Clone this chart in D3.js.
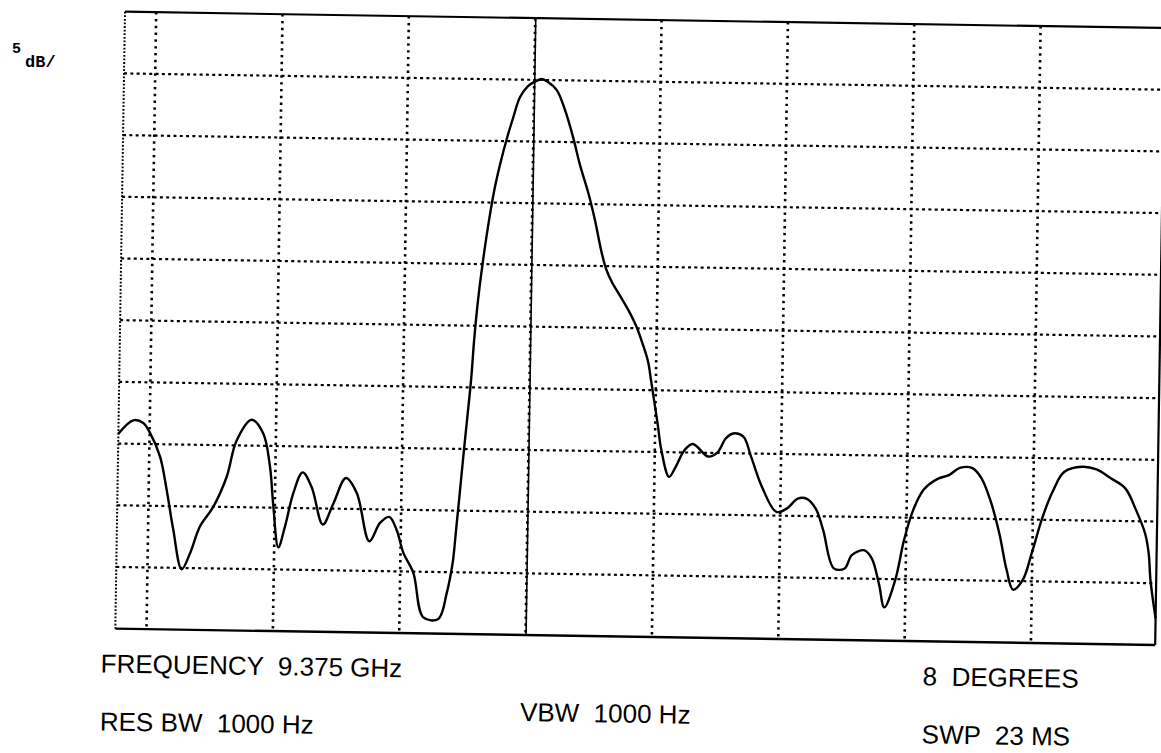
<!DOCTYPE html>
<html>
<head>
<meta charset="utf-8">
<script src="https://cdn.jsdelivr.net/npm/d3@7"></script>
<style>
  html, body { margin: 0; padding: 0; background: #ffffff; }
  svg { display: block; }
  text { white-space: pre; }
</style>
</head>
<body>
<svg id="chart" width="1161" height="753"></svg>
<script>
// Sweep position (% of full sweep, left edge = 0) of each trace sample
const sweepPos = [
  0, 1.41, 2.38, 3.04, 4.04, 4.73, 5.42, 6.29, 7.07, 7.99,
  9.24, 10.48, 11.38, 12.8, 13.93, 14.63, 15.01, 15.55, 16.16, 16.91,
  17.78, 18.67, 19.79, 20.77, 21.95, 23.01, 24.29, 25.29, 26.17, 26.9,
  27.58, 28.57, 29.6, 31.04, 31.81, 32.1, 32.37, 32.61, 32.86, 33.17,
  33.5, 33.83, 34.06, 34.38, 34.8, 35.32, 35.84, 36.29, 36.92, 37.47,
  38.11, 38.86, 39.53, 40.17, 40.78, 41.63, 42.45, 43.3, 43.98, 44.82,
  45.5, 46.13, 46.63, 47.23, 48.03, 48.82, 49.61, 50.31, 50.82, 51.13,
  51.45, 51.83, 52.22, 53.01, 53.62, 54.46, 55.25, 56.72, 57.58, 58.42,
  59.11, 60.09, 60.88, 61.96, 63.38, 64.4, 65.42, 66.29, 67.17, 67.9,
  68.99, 70.03, 70.7, 71.91, 72.62, 73.35, 73.9, 74.9, 75.7, 76.52,
  77.52, 78.88, 79.92, 80.95, 82.16, 83.04, 83.94, 84.86, 85.6, 86.26,
  87.17, 88.0, 88.97, 89.97, 90.98, 92.7, 94.1, 95.49, 96.89, 97.96,
  98.87, 99.24, 99.45, 100
];

// Trace level in dB relative to the top graticule line (5 dB/div)
const levelDb = [
  -34.2, -33.1, -33.3, -34.1, -36.0, -38.7, -41.9, -45.1, -43.8, -41.6,
  -40.0, -37.55, -34.6, -32.9, -34.0, -36.7, -39.9, -43.2, -41.5, -38.8,
  -37.1, -38.3, -41.3, -39.6, -37.5, -38.7, -42.6, -41.1, -40.6, -41.65,
  -43.5, -45.1, -48.7, -48.8, -46.7, -45.5, -44.0, -41.6, -39.1, -35.9,
  -32.65, -29.4, -26.2, -22.9, -19.7, -16.4, -13.7, -11.9, -9.75, -8.12,
  -6.41, -5.51, -5.15, -4.92, -5.16, -5.8, -7.4, -9.69, -11.85, -14.1,
  -16.3, -18.7, -20.2, -21.3, -22.4, -23.5, -24.8, -26.35, -27.7, -29.2,
  -30.8, -32.7, -34.8, -37.0, -36.2, -34.8, -34.3, -35.3, -35.0, -33.8,
  -33.4, -33.65, -35.3, -37.7, -39.7, -39.4, -38.6, -38.6, -39.4, -41.1,
  -44.2, -44.2, -43.1, -42.7, -43.35, -45.4, -47.3, -45.1, -41.8, -39.4,
  -37.7, -36.8, -36.5, -35.9, -35.9, -36.7, -38.5, -41.2, -44.1, -45.7,
  -44.9, -42.7, -39.8, -37.6, -36.1, -35.65, -35.85, -36.55, -37.35, -39.1,
  -41.0, -42.6, -44.75, -47.85
];

// Graticule: vertical division lines (sweep %) and horizontal lines (dB)
const xGridTicks = [3.0, 15.15, 27.3, 39.45, 51.6, 63.75, 75.9, 88.05];
const yGridTicks = [-45, -40, -35, -30, -25, -20, -15, -10, -5];
const markerPos = [39.5];

// Annotation rows printed under the graticule
const leftLabels  = ["FREQUENCY  9.375 GHz", "RES BW  1000 Hz"];
const midLabels   = ["VBW  1000 Hz"];
const rightLabels = ["8  DEGREES", "SWP  23 MS"];
const scaleLabel  = { value: "5", unit: "dB/" };

const W = 1040, H = 617;
const svg = d3.select("#chart");

// Whole plot sheet sits slightly tilted on the page
const sheet = svg.append("g")
  .attr("transform", "translate(125,11.7) rotate(0.9)");

const x = d3.scaleLinear().domain([0, 100]).range([0, W]);
const y = d3.scaleLinear().domain([-50, 0]).range([H, 0]);

// Horizontal dotted graticule
sheet.append("g").selectAll("line").data(yGridTicks).join("line")
  .attr("x1", 0).attr("x2", W)
  .attr("y1", d => y(d)).attr("y2", d => y(d))
  .attr("stroke", "#000").attr("stroke-width", 2.2)
  .attr("stroke-dasharray", "3,3.3");

// Vertical dotted graticule
sheet.append("g").selectAll("line").data(xGridTicks).join("line")
  .attr("x1", d => x(d)).attr("x2", d => x(d))
  .attr("y1", 0).attr("y2", H)
  .attr("stroke", "#000").attr("stroke-width", 2.6)
  .attr("stroke-dasharray", "2.4,4.4");

// Frame: dotted left edge, solid top/bottom/right
sheet.append("line")
  .attr("x1", 0).attr("x2", 0).attr("y1", 0).attr("y2", H)
  .attr("stroke", "#000").attr("stroke-width", 2)
  .attr("stroke-dasharray", "1.8,1.8");
sheet.append("line")
  .attr("x1", 0).attr("x2", W).attr("y1", 0).attr("y2", 0)
  .attr("stroke", "#000").attr("stroke-width", 2.2);
sheet.append("line")
  .attr("x1", 0).attr("x2", W).attr("y1", H).attr("y2", H)
  .attr("stroke", "#000").attr("stroke-width", 2.4);
sheet.append("line")
  .attr("x1", W).attr("x2", W).attr("y1", 0).attr("y2", H)
  .attr("stroke", "#000").attr("stroke-width", 2.2);

// Centre marker
sheet.append("g").selectAll("line").data(markerPos).join("line")
  .attr("x1", d => x(d)).attr("x2", d => x(d))
  .attr("y1", 0).attr("y2", H)
  .attr("stroke", "#000").attr("stroke-width", 1.6);

// Spectrum trace
const trace = sweepPos.map((p, i) => ({ p, db: levelDb[i] }));
const line = d3.line()
  .x(d => x(d.p))
  .y(d => y(d.db))
  .curve(d3.curveCatmullRom.alpha(0.5));
sheet.append("path")
  .datum(trace)
  .attr("d", line)
  .attr("fill", "none")
  .attr("stroke", "#000")
  .attr("stroke-width", 2.4)
  .attr("stroke-linejoin", "round");

// Annotation text
const labelFont = "'Liberation Sans', Arial, Helvetica, sans-serif";
const labelSize = 26;
const rowY = [661, 719];
sheet.append("g").selectAll("text").data(leftLabels).join("text")
  .attr("x", -14).attr("y", (d, i) => rowY[i])
  .attr("font-family", labelFont).attr("font-size", labelSize)
  .attr("fill", "#000").text(d => d);
sheet.append("g").selectAll("text").data(rightLabels).join("text")
  .attr("x", 808).attr("y", (d, i) => rowY[i])
  .attr("font-family", labelFont).attr("font-size", labelSize)
  .attr("fill", "#000").text(d => d);
sheet.append("g").selectAll("text").data(midLabels).join("text")
  .attr("x", 406).attr("y", 703)
  .attr("font-family", labelFont).attr("font-size", labelSize)
  .attr("fill", "#000").text(d => d);

// Scale factor "5 dB/" in plotter font
const scaleText = svg.append("text")
  .attr("font-family", "'Liberation Mono', 'Courier New', monospace")
  .attr("font-weight", "bold")
  .attr("fill", "#000");
scaleText.append("tspan").attr("x", 12).attr("y", 53)
  .attr("font-size", 15).text(scaleLabel.value);
scaleText.append("tspan").attr("x", 25).attr("y", 67)
  .attr("font-size", 17).text(scaleLabel.unit);
</script>
</body>
</html>
